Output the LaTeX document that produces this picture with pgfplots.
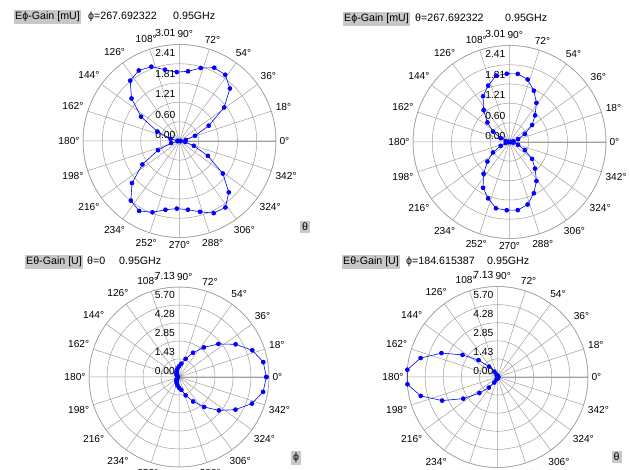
\documentclass[border=0pt]{standalone}
\usepackage{pgfplots}
\pgfplotsset{compat=1.18}
\usepgfplotslibrary{polar}
\usepackage{fontspec}
\setmainfont{Liberation Sans}
\newcommand\lbl{\fontsize{10.7}{12}\selectfont}
\newcommand\tlbl{\fontsize{10.2}{12}\selectfont}
\newcommand\rlbl{\fontsize{10.3}{12}\selectfont}
\definecolor{gg}{RGB}{160,160,160}
\definecolor{boxg}{RGB}{200,200,200}
\pgfplotsset{
  common/.style={
    scale only axis, xmin=0, xmax=360, ymin=0,
    xtick={0,18,...,342}, yticklabels={},
    major tick length=0, grid=major,
    major grid style={draw=gg, line width=0.5bp},
    axis line style={draw=gg, line width=0.5bp},
    /pgf/number format/assume math mode=true,
    xticklabel={\ifnum\ticknum=5 \rlap{\kern-2bp\raisebox{3bp}{\pgfmathprintnumber{\tick}°}}\else\pgfmathprintnumber{\tick}°\fi},
    tick label style={font=\tlbl},
    clip=false,
  },
  data/.style={blue, line width=0.6bp, mark=*, mark size=2bp, mark options={fill=blue, draw=blue}},
}
\tikzset{rl/.style={anchor=base east, inner sep=0pt, font=\rlbl, xshift=-4bp, yshift=2bp}}
\begin{document}
\begin{tikzpicture}[x=1bp,y=1bp]
\path[use as bounding box] (0,0) rectangle (630,470);
\clip (0,0) rectangle (630,470);
\fill[white] (0,0) rectangle (630,470);

% ---------- top left ----------
\begin{polaraxis}[common, at={(179.5bp,329bp)}, anchor=center, width=193bp, height=193bp,
  ymax=3.01, ytick={0.60,1.21,1.81,2.41,3.01}]
\addplot[data] coordinates {
(0.000,0.03) (9.231,0.20) (18.462,0.51) (27.692,1.03) (36.923,1.74) (46.154,2.27)
(55.385,2.51) (64.615,2.53) (73.846,2.37) (83.077,2.19) (92.308,2.15) (101.538,2.27)
(110.769,2.48) (120.000,2.54) (129.231,2.43) (138.462,2.00) (147.692,1.42) (156.923,0.75)
(166.154,0.29) (175.385,0.06) (184.615,0.06) (193.846,0.27) (203.077,0.73) (212.308,1.37)
(221.538,1.98) (230.769,2.40) (240.000,2.52) (249.231,2.38) (258.462,2.19) (267.692,2.11)
(276.923,2.16) (286.154,2.30) (295.385,2.49) (304.615,2.52) (313.846,2.22) (323.077,1.69)
(332.308,1.00) (341.538,0.47) (350.769,0.18) (360.000,0.03)};
\node[rl] at (axis cs:90,0) {0.00};
\node[rl] at (axis cs:90,0.638) {0.60};
\node[rl] at (axis cs:90,1.286) {1.21};
\node[rl] at (axis cs:90,1.923) {1.81};
\node[rl] at (axis cs:90,2.561) {2.41};
\node[rl] at (axis cs:90,3.198) {3.01};
\end{polaraxis}

% ---------- top right ----------
\begin{polaraxis}[common, at={(509.5bp,328bp)}, anchor=center, width=193bp, height=193bp,
  ymax=3.01, ytick={0.60,1.21,1.81,2.41,3.01}]
\addplot[data] coordinates {
(0.000,0.03) (9.231,0.12) (18.462,0.28) (27.692,0.54) (36.923,0.88) (46.154,1.15)
(55.385,1.48) (64.615,1.77) (73.846,2.03) (83.077,2.14) (92.308,2.13) (101.538,2.11)
(110.769,1.88) (120.000,1.65) (129.231,1.28) (138.462,0.92) (147.692,0.61) (156.923,0.30)
(166.154,0.12) (175.385,0.03) (184.615,0.03) (193.846,0.12) (203.077,0.30) (212.308,0.61)
(221.538,0.92) (230.769,1.28) (240.000,1.65) (249.231,1.88) (258.462,2.11) (267.692,2.13)
(276.923,2.14) (286.154,2.03) (295.385,1.77) (304.615,1.48) (313.846,1.15) (323.077,0.88)
(332.308,0.54) (341.538,0.28) (350.769,0.12) (360.000,0.03)};
\node[rl] at (axis cs:90,0) {0.00};
\node[rl] at (axis cs:90,0.638) {0.60};
\node[rl] at (axis cs:90,1.286) {1.21};
\node[rl] at (axis cs:90,1.923) {1.81};
\node[rl] at (axis cs:90,2.561) {2.41};
\node[rl] at (axis cs:90,3.198) {3.01};
\end{polaraxis}

% ---------- bottom left ----------
\begin{polaraxis}[common, at={(179bp,93bp)}, anchor=center, width=180bp, height=180bp,
  ymax=7.13, ytick={1.43,2.85,4.28,5.70,7.13}]
\addplot[data] coordinates {
(0,6.92) (10,6.78) (20,6.18) (30,5.18) (40,4.07) (50,3.06) (60,2.22) (70,1.53) (80,1.08)
(90,0.85) (100,0.68) (110,0.52) (120,0.40) (130,0.30) (140,0.22) (150,0.17) (160,0.14)
(170,0.12) (180,0.12) (190,0.12) (200,0.14) (210,0.17) (220,0.22) (230,0.30) (240,0.40)
(250,0.52) (260,0.68) (270,0.85) (280,1.04) (290,1.55) (300,2.24) (310,3.10) (320,4.12)
(330,5.17) (340,6.15) (350,6.77) (360,6.92)};
\node[rl] at (axis cs:90,0) {0.00};
\node[rl] at (axis cs:90,1.519) {1.43};
\node[rl] at (axis cs:90,3.028) {2.85};
\node[rl] at (axis cs:90,4.548) {4.28};
\node[rl] at (axis cs:90,6.056) {5.70};
\node[rl] at (axis cs:90,7.576) {7.13};
\end{polaraxis}

% ---------- bottom right ----------
\begin{polaraxis}[common, at={(497.5bp,93bp)}, anchor=center, width=181bp, height=181bp,
  ymax=7.13, ytick={1.43,2.85,4.28,5.70,7.13}]
\addplot[data] coordinates {
(0.000,0.03) (9.231,0.03) (18.462,0.03) (27.692,0.03) (36.923,0.04) (46.154,0.04)
(55.385,0.05) (64.615,0.05) (73.846,0.06) (83.077,0.07) (92.308,0.08) (101.538,0.10)
(110.769,0.20) (120.000,0.49) (129.231,1.06) (138.462,2.00) (147.692,3.26) (156.923,4.80)
(166.154,6.24) (175.385,7.13) (184.615,7.12) (193.846,6.23) (203.077,4.74) (212.308,3.19)
(221.538,1.91) (230.769,1.07) (240.000,0.50) (249.231,0.20) (258.462,0.10) (267.692,0.08)
(276.923,0.07) (286.154,0.06) (295.385,0.05) (304.615,0.05) (313.846,0.04) (323.077,0.04)
(332.308,0.03) (341.538,0.03) (350.769,0.03) (360.000,0.03)};
\node[rl] at (axis cs:90,0) {0.00};
\node[rl] at (axis cs:90,1.519) {1.43};
\node[rl] at (axis cs:90,3.028) {2.85};
\node[rl] at (axis cs:90,4.548) {4.28};
\node[rl] at (axis cs:90,6.056) {5.70};
\node[rl] at (axis cs:90,7.576) {7.13};
\end{polaraxis}

% ---------- titles ----------
\begin{scope}[every node/.style={font=\lbl, anchor=base west, inner sep=0pt}]
\node[fill=boxg, inner xsep=1.5bp, inner ysep=2bp] at (13.5,450) {Eϕ-Gain [mU]};
\node at (88,450) {ϕ=267.692322};
\node at (173,450) {0.95GHz};
\node[fill=boxg, inner xsep=1.5bp, inner ysep=2bp] at (342.5,448.5) {Eϕ-Gain [mU]};
\node at (415,448.5) {θ=267.692322};
\node at (505,448.5) {0.95GHz};
\node[fill=boxg, inner xsep=1.5bp, inner ysep=2bp] at (24.5,205.5) {Eθ-Gain [U]};
\node at (87,205.5) {θ=0};
\node at (119,205.5) {0.95GHz};
\node[fill=boxg, inner xsep=1.5bp, inner ysep=2bp] at (341.5,205.5) {Eθ-Gain [U]};
\node at (406,205.5) {ϕ=184.615387};
\node at (487,205.5) {0.95GHz};
\node[fill=boxg, inner xsep=2bp, inner ysep=2bp] at (300,239.5) {θ};
\node[fill=boxg, inner xsep=2bp, inner ysep=2bp] at (291,9) {ϕ};
\node[fill=boxg, inner xsep=2bp, inner ysep=2bp] at (611.5,9) {θ};
\end{scope}
\end{tikzpicture}
\end{document}
